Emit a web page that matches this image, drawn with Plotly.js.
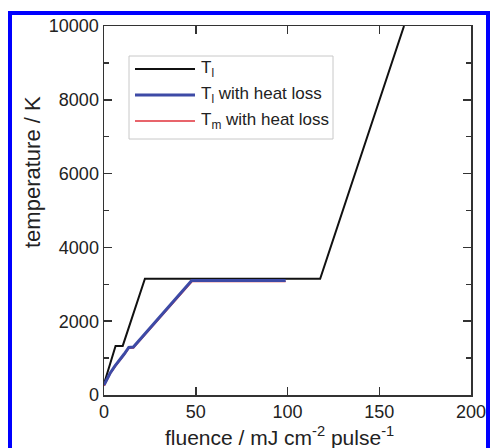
<!DOCTYPE html>
<html><head><meta charset="utf-8">
<script src="https://cdn.plot.ly/plotly-3.0.1.min.js"></script>
<style>html,body{margin:0;padding:0;background:#fff;} #chart{width:490px;height:448px;}</style>
</head><body><div id="chart"></div>
<script>
// ---- data ----
const fluenceTl = [0, 6.3, 10.2, 22.3, 117.8, 163.5];
const tempTl = [300, 1330, 1330, 3150, 3150, 10000];

const fluenceTlLoss = [0, 1.5, 3.3, 6, 8.7, 11, 13.5, 16, 47.8, 99];
const tempTlLoss = [270, 430, 590, 790, 950, 1110, 1290, 1300, 3105, 3105];

const fluenceTmLoss = [0, 1.5, 3.3, 6, 8.7, 11, 13.5, 16, 48, 99];
const tempTmLoss = [250, 405, 565, 765, 925, 1085, 1265, 1275, 3075, 3075];

const seriesNames = ['T<sub>l</sub>', 'T<sub>l</sub> with heat loss', 'T<sub>m</sub> with heat loss'];
const xTickVals = [0, 50, 100, 150, 200];
const yTickVals = [0, 2000, 4000, 6000, 8000, 10000];
const xTitle = 'fluence / mJ cm<sup>-2</sup> pulse<sup>-1</sup>';
const yTitle = 'temperature / K';

// ---- styling ----
const W = 490, H = 448;
const L = 104, R = 471, T = 26, B = 395;
const px2x = p => (p - L) / (R - L);
const py2y = p => (B - p) / (B - T);
const FONT = 'Liberation Sans, Arial, Helvetica, sans-serif';
const colors = ['#111111', '#3d4aa6', '#e0303a'];
const widths = [2, 3, 1.5];

const traces = [
  {x: fluenceTl, y: tempTl, name: seriesNames[0], mode: 'lines', line: {color: colors[0], width: widths[0]}},
  {x: fluenceTmLoss, y: tempTmLoss, name: seriesNames[2], mode: 'lines', line: {color: colors[2], width: widths[2]}},
  {x: fluenceTlLoss, y: tempTlLoss, name: seriesNames[1], mode: 'lines', line: {color: colors[1], width: widths[1]}}
];

const shapes = [
  {type: 'rect', xref: 'paper', yref: 'paper', x0: px2x(10), x1: px2x(488), y0: py2y(455), y1: py2y(13),
   line: {color: '#0000ff', width: 4}, layer: 'below'},
  {type: 'rect', xref: 'paper', yref: 'paper', x0: px2x(129), x1: px2x(333), y0: py2y(139), y1: py2y(56),
   line: {color: '#c8c8c8', width: 1}, fillcolor: '#ffffff'}
];
const legendY = [69, 95, 121];
const annotations = [];
seriesNames.forEach((n, i) => {
  shapes.push({type: 'line', xref: 'paper', yref: 'paper', x0: px2x(135), x1: px2x(195),
    y0: py2y(legendY[i]), y1: py2y(legendY[i]), line: {color: colors[i], width: widths[i]}});
  annotations.push({xref: 'paper', yref: 'paper', x: px2x(199), y: py2y(legendY[i]), text: n,
    showarrow: false, xanchor: 'left', yanchor: 'middle', font: {size: 17, color: '#222', family: FONT}});
});
annotations.push({xref: 'paper', yref: 'paper', x: px2x(32), y: py2y(172), text: yTitle, textangle: -90,
  showarrow: false, xanchor: 'center', yanchor: 'middle', font: {size: 22, color: '#222', family: FONT}});
annotations.push({xref: 'paper', yref: 'paper', x: px2x(279), y: py2y(436), text: xTitle,
  showarrow: false, xanchor: 'center', yanchor: 'middle', font: {size: 21, color: '#222', family: FONT}});

const axisCommon = {
  showline: true, linecolor: '#333', linewidth: 1.5, mirror: 'ticks',
  ticks: 'inside', ticklen: 8, tickwidth: 1.5, tickcolor: '#333',
  showgrid: false, zeroline: false,
  tickfont: {size: 18, color: '#222', family: FONT}
};

const layout = {
  width: W, height: H,
  margin: {l: L, r: W - R, t: T, b: H - B, pad: 0},
  paper_bgcolor: '#ffffff', plot_bgcolor: '#ffffff',
  showlegend: false,
  font: {family: FONT},
  xaxis: Object.assign({}, axisCommon, {range: [0, 200], tickvals: xTickVals, ticktext: xTickVals.map(String)}),
  yaxis: Object.assign({}, axisCommon, {range: [0, 10000], tickvals: yTickVals, ticktext: yTickVals.map(String),
    minor: {dtick: 1000, ticks: 'inside', ticklen: 5, tickwidth: 1.5, tickcolor: '#333', showgrid: false}}),
  shapes: shapes,
  annotations: annotations
};

Plotly.newPlot('chart', traces, layout, {displayModeBar: false, staticPlot: true});
</script>
</body></html>
